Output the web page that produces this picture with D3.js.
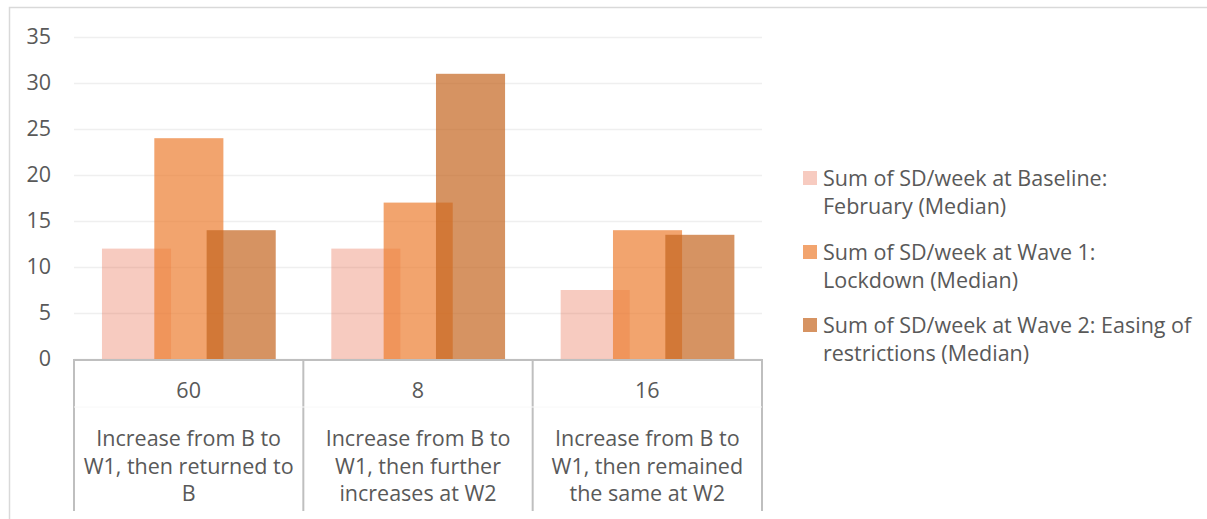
<!DOCTYPE html>
<html>
<head>
<meta charset="utf-8">
<script src="https://cdn.jsdelivr.net/npm/d3@7"></script>
<style>
  body { margin: 0; background: #fff; }
  text { font-family: "Open Sans", Lato, sans-serif; fill: #595959; }
</style>
</head>
<body>
<svg id="chart" width="1207" height="519"></svg>
<script>
// data
let counts = ["60", "8", "16"];
let categories = [
  ["Increase from B to", "W1, then returned to", "B"],
  ["Increase from B to", "W1, then further", "increases at W2"],
  ["Increase from B to", "W1, then remained", "the same at W2"]
];
let seriesNames = [
  ["Sum of SD/week at Baseline:", "February (Median)"],
  ["Sum of SD/week at Wave 1:", "Lockdown (Median)"],
  ["Sum of SD/week at Wave 2: Easing of", "restrictions (Median)"]
];
let baseline = [12, 12, 7.5];
let wave1 = [24, 17, 14];
let wave2 = [14, 31, 13.5];
let yTicks = [0, 5, 10, 15, 20, 25, 30, 35];

let seriesValues = [baseline, wave1, wave2];
let seriesColors = ["#E8694A", "#ED7D31", "#C5651F"];
let seriesOpacity = [0.35, 0.7, 0.7];

let svg = d3.select("#chart");
let plotLeft = 74, plotRight = 762, plotTop = 37, plotBottom = 359;
let fontSize = 21.5;

// chart border
svg.append("rect")
  .attr("x", 9.5).attr("y", 7.5)
  .attr("width", 1210).attr("height", 530)
  .attr("fill", "none")
  .attr("stroke", "#D9D9D9")
  .attr("stroke-width", 1.5);

let x = d3.scaleBand()
  .domain(d3.range(categories.length))
  .range([plotLeft, plotRight])
  .padding(0);

let y = d3.scaleLinear()
  .domain([0, 35])
  .range([plotBottom, plotTop]);

// gridlines
let grid = svg.append("g")
  .attr("transform", "translate(" + plotLeft + ",0)")
  .call(d3.axisLeft(y).tickValues(yTicks).tickSize(-(plotRight - plotLeft)).tickFormat(""));
grid.select(".domain").remove();
grid.selectAll("line").attr("stroke", "#EFEFEF").attr("stroke-width", 1.5);

// y tick labels
let yAxis = svg.append("g")
  .attr("transform", "translate(51,0)")
  .call(d3.axisLeft(y).tickValues(yTicks).tickSize(0).tickPadding(0));
yAxis.select(".domain").remove();
yAxis.selectAll("text")
  .style("font-family", "'Open Sans', Lato, sans-serif")
  .style("font-size", fontSize + "px")
  .attr("fill", "#595959");

// bars: overlapping columns inside each category
let groupOffset = x.bandwidth() * 0.122;
let inner = d3.scaleBand()
  .domain(d3.range(seriesValues.length))
  .range([groupOffset, groupOffset + 157])
  .padding(0);
let barWidth = inner.bandwidth() * 1.32;

seriesValues.forEach(function(vals, s) {
  svg.append("g")
    .selectAll("rect")
    .data(vals)
    .join("rect")
    .attr("x", function(d, i) { return x(i) + inner(s); })
    .attr("y", function(d) { return y(d); })
    .attr("width", barWidth)
    .attr("height", function(d) { return y(0) - y(d); })
    .attr("fill", seriesColors[s])
    .attr("fill-opacity", seriesOpacity[s]);
});

// category axis as a table
let axisColor = "#BFBFBF";
svg.append("line")
  .attr("x1", plotLeft - 1).attr("x2", plotRight + 1)
  .attr("y1", plotBottom + 1).attr("y2", plotBottom + 1)
  .attr("stroke", axisColor).attr("stroke-width", 2);

let edges = d3.range(categories.length).map(function(i) { return x(i); }).concat([plotRight]);
svg.append("g")
  .selectAll("line")
  .data(edges)
  .join("line")
  .attr("x1", function(d) { return d; }).attr("x2", function(d) { return d; })
  .attr("y1", plotBottom).attr("y2", 511)
  .attr("stroke", axisColor).attr("stroke-width", 2);

svg.append("line")
  .attr("x1", plotLeft).attr("x2", plotRight)
  .attr("y1", 407).attr("y2", 407)
  .attr("stroke", "#F8F8F8").attr("stroke-width", 1);

svg.append("g")
  .selectAll("text")
  .data(counts)
  .join("text")
  .attr("x", function(d, i) { return x(i) + x.bandwidth() / 2; })
  .attr("y", 397.5)
  .attr("text-anchor", "middle")
  .style("font-size", fontSize + "px")
  .text(function(d) { return d; });

categories.forEach(function(lines, i) {
  svg.append("g")
    .selectAll("text")
    .data(lines)
    .join("text")
    .attr("x", x(i) + x.bandwidth() / 2)
    .attr("y", function(d, j) { return 446 + j * 27.5; })
    .attr("text-anchor", "middle")
    .style("font-size", fontSize + "px")
    .text(function(d) { return d; });
});

// legend
let legendTops = [171, 245, 318];
seriesNames.forEach(function(lines, s) {
  let g = svg.append("g");
  g.append("rect")
    .attr("x", 803).attr("y", legendTops[s])
    .attr("width", 14).attr("height", 14)
    .attr("fill", seriesColors[s])
    .attr("fill-opacity", seriesOpacity[s]);
  g.selectAll("text")
    .data(lines)
    .join("text")
    .attr("x", 823)
    .attr("y", function(d, j) { return legendTops[s] + 15 + j * 28; })
    .style("font-size", fontSize + "px")
    .text(function(d) { return d; });
});
</script>
</body>
</html>
